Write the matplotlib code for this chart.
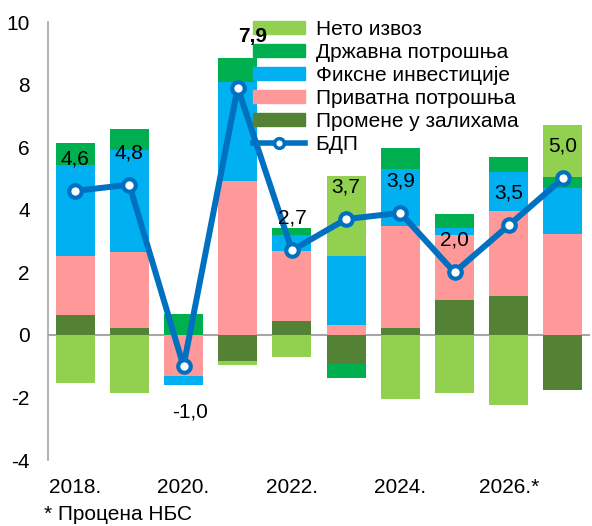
import matplotlib.pyplot as plt
from matplotlib.patches import Patch
from matplotlib.lines import Line2D
import numpy as np

plt.rcParams['font.family'] = ['Liberation Sans', 'DejaVu Sans']
plt.rcParams['axes.unicode_minus'] = False

# Contributions to GDP growth (pp), stacked in this order
years = [2018, 2019, 2020, 2021, 2022, 2023, 2024, 2025, 2026, 2027]
inventories = [0.63, 0.22, 0.0, -0.83, 0.45, -0.92, 0.23, 1.11, 1.24, -1.75]
private = [1.88, 2.42, -1.30, 4.93, 2.22, 0.32, 3.24, 2.07, 2.71, 3.21]
fixed = [2.92, 3.28, -0.30, 3.15, 0.51, 2.19, 1.84, 0.22, 1.24, 1.50]
government = [0.70, 0.67, 0.66, 0.76, 0.22, -0.45, 0.67, 0.45, 0.51, 0.32]
net_exports = [-1.53, -1.85, 0.0, -0.12, -0.70, 2.58, -2.04, -1.85, -2.23, 1.68]
gdp = [4.6, 4.8, -1.0, 7.9, 2.7, 3.7, 3.9, 2.0, 3.5, 5.0]
gdp_labels = ['4,6', '4,8', '-1,0', '7,9', '2,7', '3,7', '3,9', '2,0', '3,5', '5,0']

tick_labels = ['2018.', '2020.', '2022.', '2024.', '2026.*']

series = [
    ('Промене у залихама', inventories, '#548235'),
    ('Приватна потрошња', private, '#FF9999'),
    ('Фиксне инвестиције', fixed, '#00B0F0'),
    ('Државна потрошња', government, '#00B050'),
    ('Нето извоз', net_exports, '#92D050'),
]
line_color = '#0070C0'
fs = 15

fig = plt.figure(figsize=(5.92, 5.26), dpi=100)
ax = fig.add_axes([48 / 592, 1 - 460 / 526, 542 / 592, 438 / 526])

x = np.arange(len(years))
pos_bottom = np.zeros(len(years))
neg_bottom = np.zeros(len(years))
for name, vals, color in series:
    vals = np.array(vals)
    bottom = np.where(vals >= 0, pos_bottom, neg_bottom)
    ax.bar(x, vals, bottom=bottom, width=0.72, color=color, zorder=2)
    pos_bottom += np.where(vals >= 0, vals, 0)
    neg_bottom += np.where(vals < 0, vals, 0)

ax.axhline(0, color='#A6A6A6', lw=1.5, zorder=1)

ax.plot(x, gdp, color=line_color, lw=4.3, marker='o', markersize=9,
        markerfacecolor='white', markeredgecolor=line_color,
        markeredgewidth=3, zorder=4)

for i, (v, lab) in enumerate(zip(gdp, gdp_labels)):
    dx, dy, weight = 0, 23, 'normal'
    if i == 3:
        dx, dy, weight = 11, 37, 'bold'
    elif i == 2:
        dx, dy = 5, -33
    ax.annotate(lab, (x[i], v), xytext=(dx, dy), textcoords='offset points',
                ha='center', va='center', fontsize=fs, fontweight=weight,
                zorder=6)

ax.set_xlim(-0.5, 9.5)
ax.set_ylim(-4, 10)
ax.set_yticks([-4, -2, 0, 2, 4, 6, 8, 10])
ax.set_xticks(x[::2], tick_labels)
ax.tick_params(axis='y', length=0, pad=13, labelsize=fs)
ax.tick_params(axis='x', length=0, pad=13, labelsize=fs)
for s in ['top', 'right', 'bottom']:
    ax.spines[s].set_visible(False)
ax.spines['left'].set_color('#A6A6A6')
ax.spines['left'].set_linewidth(1.2)

handles = [Patch(color=c) for _, _, c in series][::-1]
names = [n for n, _, _ in series][::-1]
handles.append(Line2D([0], [0], color=line_color, lw=4, marker='o',
                      markersize=7, markerfacecolor='white',
                      markeredgecolor=line_color, markeredgewidth=2.5))
names.append('БДП')
ax.legend(handles, names, loc='upper left',
          bbox_to_anchor=(253 / 592, 1 - 20 / 526),
          bbox_transform=fig.transFigure, frameon=False, fontsize=fs,
          handlelength=2.5, handleheight=0.58, handletextpad=0.5,
          labelspacing=0.19, borderpad=0, borderaxespad=0)

fig.text(44 / 592, 1 - 514 / 526, '* Процена НБС', fontsize=fs, va='center')

fig.savefig('out.png', dpi=100)
